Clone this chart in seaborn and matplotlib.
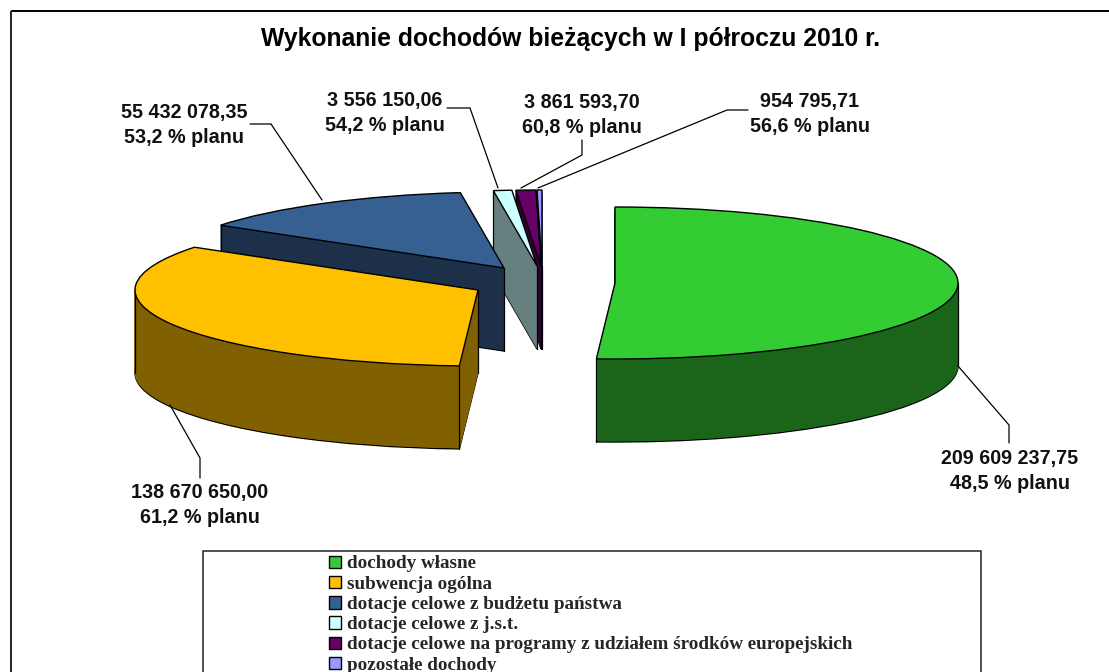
import numpy as np
import matplotlib
matplotlib.use("Agg")
import matplotlib.pyplot as plt
from matplotlib.patches import Rectangle
import seaborn as sns

categories = ["dochody własne", "subwencja ogólna", "dotacje celowe z budżetu państwa",
              "dotacje celowe z j.s.t.", "dotacje celowe na programy z udziałem środków europejskich",
              "pozostałe dochody"]
values = [209609237.75, 138670650.00, 55432078.35, 3556150.06, 3861593.70, 954795.71]
value_labels = ["209 609 237,75", "138 670 650,00", "55 432 078,35", "3 556 150,06", "3 861 593,70", "954 795,71"]
plan_labels = ["48,5 % planu", "61,2 % planu", "53,2 % planu", "54,2 % planu", "60,8 % planu", "56,6 % planu"]
top_colors = ["#33CC33", "#FFC000", "#366092", "#CCFFFF", "#660066", "#9999FF"]
wall_colors = ["#1B651B", "#806000", "#1C304A", "#668080", "#330033", "#4D4D80"]
title = "Wykonanie dochodów bieżących w I półroczu 2010 r."

# layout in pixels of the 1109x672 canvas
W, H = 1109, 672
RX, RY, DEPTH = 343.0, 76.0, 83
centers = [(615, 283), (478, 290), (504, 268), (537, 266), (541, 266), (542, 266)]
label_pos = [(1010, 471), (200, 505), (184, 125), (385, 113), (582, 115), (810, 114)]
leaders = [[(958, 366), (1009, 425), (1009, 443)],
           [(170, 405), (200, 458), (200, 478)],
           [(250, 124), (271, 124), (322, 200)],
           [(447, 108), (470, 108), (498, 188)],
           [(521, 188), (582, 155), (582, 140)],
           [(538, 188), (727, 110), (748, 110)]]

sns.set_theme(style="white")
plt.rcParams["font.family"] = ["Liberation Sans", "DejaVu Sans"]

fig = plt.figure(figsize=(W / 100, H / 100), dpi=100, facecolor="white")
ax = fig.add_axes([0, 0, 1, 1])
ov = fig.add_axes([0, 0, 1, 1], zorder=5)
ov.set_xlim(0, W); ov.set_ylim(H, 0); ov.axis("off"); ov.patch.set_alpha(0)


def ux(px): return px / RX
def uy(py): return (H - py) / RY


def slice_(start, frac, cx, cy, color, edge, lw, z):
    ax.pie([frac], normalize=False, startangle=90 - start * 360, counterclock=False,
           center=(ux(cx), uy(cy)), radius=1, colors=[color],
           wedgeprops=dict(edgecolor=edge, linewidth=lw, zorder=z), frame=True)


total = sum(values)
fracs = [v / total for v in values]
starts = np.concatenate([[0], np.cumsum(fracs)[:-1]])


def arc_point(t, cx, cy):
    return cx + RX * np.sin(2 * np.pi * t), cy - RY * np.cos(2 * np.pi * t)


def wall(i, z):
    cx, cy = centers[i]
    t0, t1 = starts[i], starts[i] + fracs[i]
    slice_(t0, fracs[i], cx, cy + DEPTH, wall_colors[i], "black", 1.0, z)
    for d in range(DEPTH - 1, 0, -1):
        slice_(t0, fracs[i], cx, cy + d, wall_colors[i], wall_colors[i], 0.6, z + 1)
    # visible vertical edges: the slice's silhouette and lower arc ends
    ends = [arc_point(t0, cx, cy), arc_point(t1, cx, cy)]
    extremes = [arc_point(t, cx, cy) for t in (0.25, 0.75) if t0 < t < t1]
    pts = ends + extremes + [(cx, cy)]
    keep = {min(pts), max(pts)} | {p for p in ends if p[1] > cy}
    for x, y in keep:
        ax.plot([ux(x), ux(x)], [uy(y), uy(y + DEPTH)], color="black", lw=0.9, zorder=z + 2)


def top(i, z):
    cx, cy = centers[i]
    slice_(starts[i], fracs[i], cx, cy, top_colors[i], "black", 1.0, z)


# narrow slices at the back: all walls first, then their top faces
for k, i in enumerate((5, 4, 3)):
    wall(i, 10 * k)
for k, i in enumerate((5, 4, 3)):
    top(i, 40 + k)
# front slices, back to front
for k, i in enumerate((2, 1, 0)):
    wall(i, 50 + 10 * k)
    top(i, 55 + 10 * k)

ax.set_aspect("auto")
ax.set_xlim(0, W / RX)
ax.set_ylim(0, H / RY)
ax.axis("off")

# outer frame: top and left sides only, legend box runs past the lower edge
ov.plot([10.5, W], [11, 11], color="black", lw=1.4, solid_capstyle="butt")
ov.plot([10.5, 10.5], [11, H], color="#222222", lw=1.4, solid_capstyle="butt")
ov.add_patch(Rectangle((202.5, 550.5), 778, 200, fc="white", ec="#222222", lw=1.1, zorder=2))

ov.text(571, 39, title, ha="center", va="center", fontsize=17.8, fontweight="bold", color="black")

for pts, a, b, (lx, ly) in zip(leaders, value_labels, plan_labels, label_pos):
    xs, ys = zip(*pts)
    ov.plot(xs, ys, color="black", lw=0.9, solid_joinstyle="miter")
    ov.text(lx, ly, a + "\n" + b, ha="center", va="center", fontsize=14.2, fontweight="bold",
            color="#111111", linespacing=1.36, zorder=6)

handles = [Rectangle((0, 0), 1, 1, fc=c, ec="black", lw=1.0) for c in top_colors]
leg = ov.legend(handles, categories, loc="upper left", bbox_to_anchor=(329 / W, 1 - 555.5 / H),
                bbox_transform=fig.transFigure, frameon=False, borderpad=0, borderaxespad=0,
                handlelength=0.63, handleheight=0.63, handletextpad=0.32, labelspacing=0.17,
                prop=dict(family="Liberation Serif", weight="bold", size=13.75))
leg.set_zorder(7)
fig.savefig("out.png", dpi=100, facecolor="white")
